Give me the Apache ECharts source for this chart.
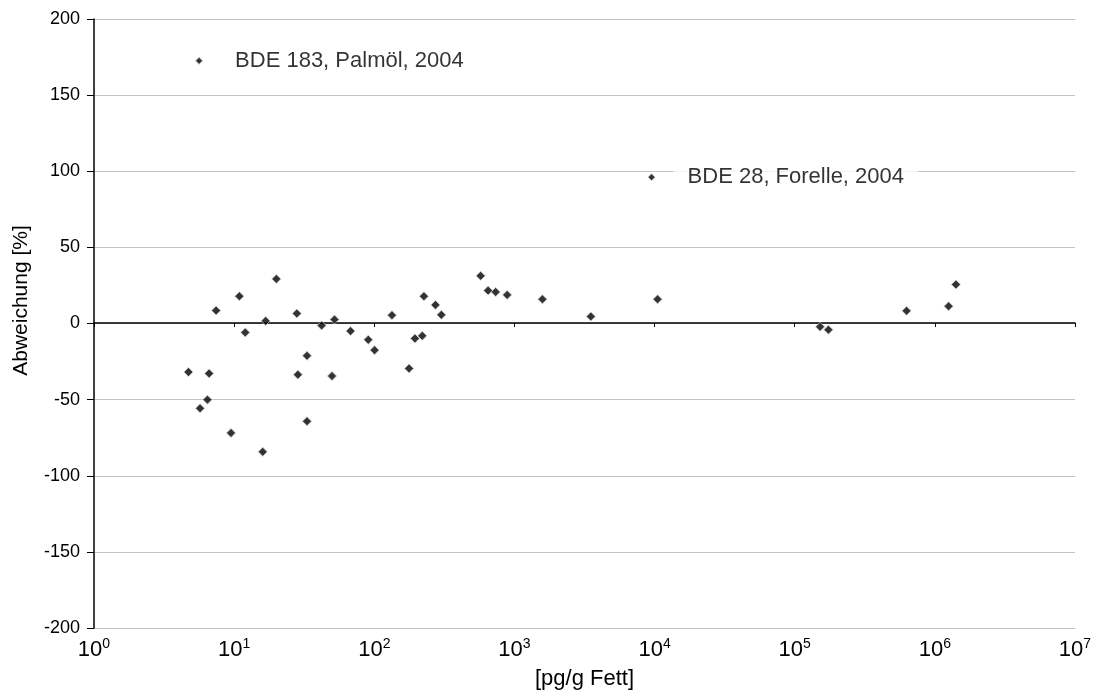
<!DOCTYPE html>
<html>
<head>
<meta charset="utf-8">
<script src="https://cdn.jsdelivr.net/npm/echarts@6/dist/echarts.min.js"></script>
<style>html,body{margin:0;padding:0;background:#fff}#c{width:1101px;height:695px}</style>
</head>
<body>
<div id="c"></div>
<script>
// Concentration [pg/g Fett] and deviation [%]
const concentrations = [4.72, 6.63, 7.44, 6.45, 5.71, 10.9, 12.0, 9.5, 20, 16.8, 16.0, 28.0, 33.1, 28.5, 33.1, 42.1, 52.0, 49.9, 67.7, 90.6, 100.5, 133.7, 177, 195, 220, 226, 273, 301, 574, 649, 735, 887, 1585, 3508, 10500, 151700, 174000, 628000, 1253000, 1413000];
const deviations = [-31.9, -32.8, 8.5, -50, -55.7, 17.9, -5.9, -71.9, 29.3, 1.7, -84.3, 6.6, -21.2, -33.6, -64.2, -1.3, 2.6, -34.5, -5.0, -10.7, -17.5, 5.5, -29.5, -9.8, -8.1, 17.9, 12.2, 5.7, 31.3, 21.6, 20.7, 18.8, 15.9, 4.6, 15.9, -2.2, -4.1, 8.3, 11.3, 25.6];
// labelled outliers
const outlierNames = ['BDE 183, Palmöl, 2004', 'BDE 28, Forelle, 2004'];
const outlierConc = [5.62, 9520];
const outlierDev = [172.5, 96.1];
const yTicks = [-200, -150, -100, -50, 0, 50, 100, 150, 200];
const xTickExponents = [0, 1, 2, 3, 4, 5, 6, 7];
const xName = '[pg/g Fett]';
const yName = 'Abweichung [%]';

const FONT = 'Liberation Sans, Arial, sans-serif';
const gridTop = 19, gridBottom = 66, H = 695;
const plotH = H - gridTop - gridBottom;
const yMin = yTicks[0], yMax = yTicks[yTicks.length - 1];
const zeroOffset = -plotH * (0 - yMin) / (yMax - yMin);

const chart = echarts.init(document.getElementById('c'));
const mainData = concentrations.map((x, i) => [x, deviations[i]]);
const outData = outlierConc.map((x, i) => ({ value: [x, outlierDev[i]], name: outlierNames[i] }));

chart.setOption({
  animation: false,
  backgroundColor: '#fff',
  textStyle: { fontFamily: FONT },
  grid: { left: 94, right: 26, top: gridTop, bottom: gridBottom, containLabel: false },
  xAxis: [
    {
      type: 'log', logBase: 10,
      min: Math.pow(10, xTickExponents[0]),
      max: Math.pow(10, xTickExponents[xTickExponents.length - 1]),
      interval: 1,
      position: 'bottom',
      axisLine: { show: false, onZero: false },
      axisTick: { show: false },
      splitLine: { show: false },
      name: xName, nameLocation: 'middle', nameGap: 40,
      nameTextStyle: { fontFamily: FONT, fontSize: 22, color: '#000' },
      axisLabel: {
        margin: 9,
        formatter: function (v) {
          const e = Math.round(Math.log10(v));
          return '{b|10}{s|' + e + '}';
        },
        rich: {
          b: { fontFamily: FONT, fontSize: 22, color: '#000', lineHeight: 25 },
          s: { fontFamily: FONT, fontSize: 14, color: '#000', lineHeight: 15, verticalAlign: 'top' }
        }
      }
    },
    {
      type: 'log', logBase: 10,
      min: Math.pow(10, xTickExponents[0]),
      max: Math.pow(10, xTickExponents[xTickExponents.length - 1]),
      interval: 1,
      position: 'bottom',
      offset: zeroOffset,
      axisLine: { show: true, onZero: false, lineStyle: { color: '#000', width: 1.5 } },
      axisTick: { show: true, length: 4, lineStyle: { color: '#000' } },
      axisLabel: { show: false },
      splitLine: { show: false }
    }
  ],
  yAxis: {
    type: 'value', min: yMin, max: yMax, interval: 50,
    axisLine: { show: true, onZero: false, lineStyle: { color: '#000', width: 1.5 } },
    axisTick: { show: true, length: 7, lineStyle: { color: '#000' } },
    splitLine: { show: true, lineStyle: { color: '#c4c4c4', width: 1.2 } },
    axisLabel: { margin: 14, fontFamily: FONT, fontSize: 18, color: '#000' },
    name: yName, nameLocation: 'middle', nameGap: 62, nameRotate: 90,
    nameTextStyle: { fontFamily: FONT, fontSize: 21, color: '#000', padding: [0, 0, 0, 46] }
  },
  series: [
    {
      type: 'scatter', xAxisIndex: 0,
      symbol: 'diamond', symbolSize: 9,
      itemStyle: { color: '#000', borderColor: '#c8c8c8', borderWidth: 1 },
      data: mainData
    },
    {
      type: 'scatter', xAxisIndex: 0,
      symbol: 'diamond', symbolSize: 7,
      itemStyle: { color: '#000', borderColor: '#c8c8c8', borderWidth: 1 },
      data: outData,
      label: {
        show: true, position: 'right', distance: 18,
        formatter: '{b}',
        fontFamily: FONT, fontSize: 22, color: '#000',
        backgroundColor: '#fff', padding: [3, 14, 3, 14]
      }
    }
  ]
});
</script>
</body>
</html>
